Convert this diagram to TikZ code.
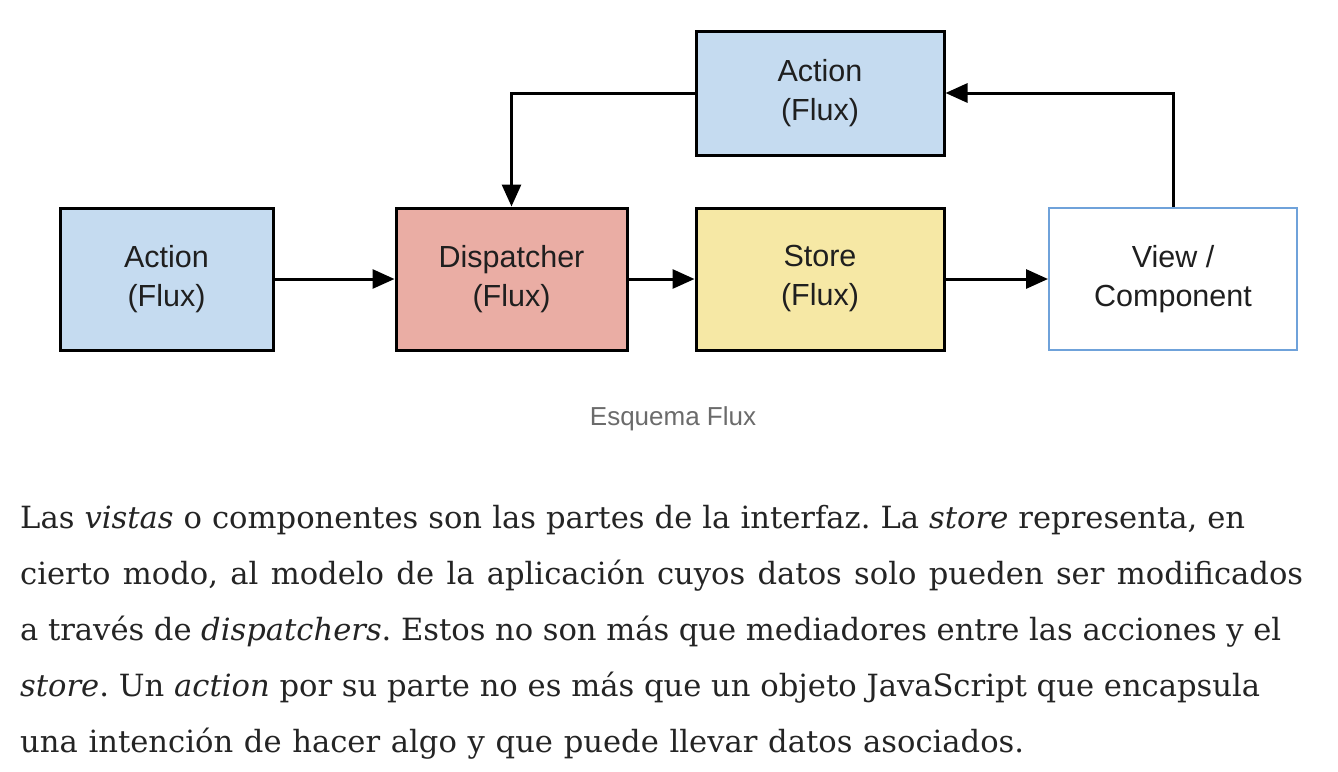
\documentclass[tikz,border=0pt]{standalone}
\usepackage{fontspec}
\setmainfont{DejaVu Serif}
\newfontfamily\boxfont{Liberation Sans}
\usetikzlibrary{arrows.meta}
\definecolor{actblue}{HTML}{C5DBF0}
\definecolor{disred}{HTML}{EAADA4}
\definecolor{storey}{HTML}{F6E8A5}
\definecolor{viewblue}{HTML}{6FA2DA}
\definecolor{capgray}{HTML}{6B6B6B}
\definecolor{bodytext}{HTML}{242424}
\frenchspacing
\tikzset{
  fluxbox/.style={draw=black, line width=3pt, align=center, inner sep=0pt,
    font=\boxfont\fontsize{30.5}{39}\selectfont, text=black!88},
  conn/.style={line width=3pt, -{Triangle[length=22pt,width=19pt]}},
  bodyline/.style={anchor=base west, inner sep=0pt, text=bodytext,
    font=\fontsize{30.6}{56}\selectfont}
}
\begin{document}
\begin{tikzpicture}[x=1pt,y=-1pt]
\useasboundingbox (0,0) rectangle (1338,771);
\fill[white] (0,0) rectangle (1338,771);
% boxes
\node[fluxbox, fill=actblue, minimum width=213pt, minimum height=142pt] (act) at (166.5,279) {Action\\(Flux)};
\node[fluxbox, fill=disred, minimum width=231pt, minimum height=142pt] (disp) at (511.5,279) {Dispatcher\\(Flux)};
\node[fluxbox, fill=storey, minimum width=248pt, minimum height=142pt] (store) at (820,279) {Store\\(Flux)};
\node[fluxbox, draw=viewblue, line width=2pt, fill=white, minimum width=248pt, minimum height=142pt] (view) at (1173,279) {View /\\Component};
\node[fluxbox, fill=actblue, minimum width=248pt, minimum height=124pt] (atop) at (820,93) {Action\\(Flux)};
% connectors
\draw[conn] (act.east) -- (disp.west);
\draw[conn] (disp.east) -- (store.west);
\draw[conn] (store.east) -- (view.west);
\draw[conn] (view.north) |- (atop.east);
\draw[conn] (atop.west) -| (disp.north);
% caption
\node[anchor=base, inner sep=0pt, text=capgray, font=\boxfont\fontsize{26}{30}\selectfont] (cap) at (673,425) {Esquema Flux};
% paragraph
\node[bodyline] (l1) at (20,528) {\makebox[1225pt][s]{Las \textit{vistas} o componentes son las partes de la interfaz. La \textit{store} representa, en}};
\node[bodyline] (l2) at (20,584) {\makebox[1283pt][s]{cierto modo, al modelo de la aplicación cuyos datos solo pueden ser modificados}};
\node[bodyline] (l3) at (20,640) {\makebox[1261pt][s]{a través de \textit{dispatchers}. Estos no son más que mediadores entre las acciones y el}};
\node[bodyline] (l4) at (20,696) {\makebox[1240pt][s]{\textit{store}. Un \textit{action} por su parte no es más que un objeto JavaScript que encapsula}};
\node[bodyline] (l5) at (20,752) {\makebox[1004pt][s]{una intención de hacer algo y que puede llevar datos asociados.}};
\end{tikzpicture}
\end{document}
